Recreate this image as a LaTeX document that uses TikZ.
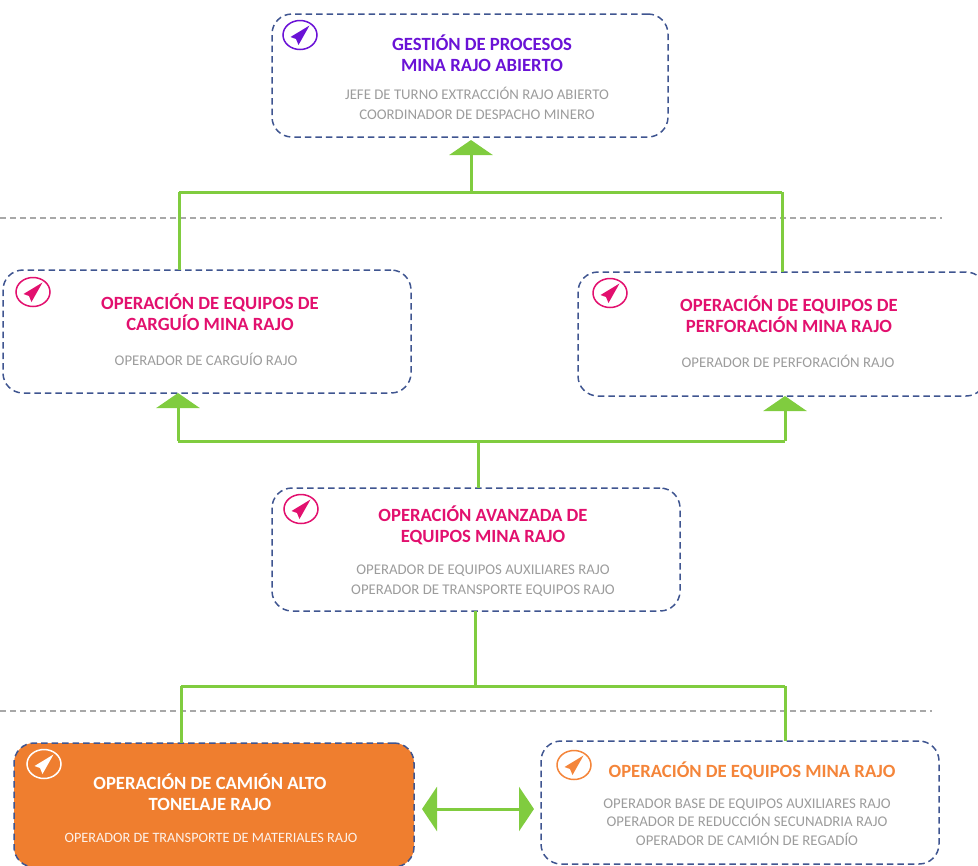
\documentclass[tikz,border=0pt]{standalone}
\usepackage{fontspec}
\setmainfont{Carlito}
\usetikzlibrary{arrows.meta}
\definecolor{frameblue}{HTML}{3F5590}
\definecolor{linkgreen}{HTML}{80CC3F}
\definecolor{subgray}{HTML}{9C9C9C}
\definecolor{sepgray}{HTML}{A8A8A8}
\definecolor{purpleT}{HTML}{6A12D6}
\definecolor{pinkT}{HTML}{E2106E}
\definecolor{orangeT}{HTML}{F4853A}
\definecolor{orangeF}{HTML}{EF7E2F}
\def\px{0.75pt}
\tikzset{
  cardbox/.style={draw=frameblue,line width=1.5*\px,dash pattern=on 6.5*\px off 4*\px,rounded corners=20*\px,inner sep=0pt,outer sep=0pt},
  titletext/.style={align=center,font=\fontsize{14}{15.8}\selectfont\bfseries},
  subtext/.style={align=center,text=subgray,font=\fontsize{11.1}{#1}\selectfont},
  subtext/.default={15},
  link/.style={draw=linkgreen,line width=3*\px},
  uparrow/.style={link,-{Triangle[width=43*\px,length=15*\px]}},
  bothways/.style={link,{Triangle[width=44*\px,length=15*\px]}-{Triangle[width=44*\px,length=15*\px]}},
  sepline/.style={draw=sepgray,line width=1.2*\px,dash pattern=on 6*\px off 4*\px},
  badge/.pic={
    \draw[#1,line width=1.5*\px] (0,0) ellipse (17 and 14.5);
    \fill[#1] (9.5,-9.5) -- (-9.5,2) -- (-4,4) -- (-1.5,10) -- cycle;
  }
}
\begin{document}
\begin{tikzpicture}[x=0.75pt,y=-0.75pt]
\useasboundingbox (0,0) rectangle (978,865);
\clip (0,0) rectangle (978,865);
% separators
\coordinate (s1a) at (0,218); \coordinate (s1b) at (942,218);
\coordinate (s2a) at (0,711); \coordinate (s2b) at (932,711);
\draw[sepline] (s1a) -- (s1b);
\draw[sepline] (s2a) -- (s2b);
% boxes
\node[cardbox,minimum width=396*\px,minimum height=123*\px] (A) at (470,75.5) {};
\node[cardbox,minimum width=408*\px,minimum height=123*\px] (B) at (207,331.5) {};
\node[cardbox,minimum width=408*\px,minimum height=124*\px] (C) at (782,334) {};
\node[cardbox,minimum width=408*\px,minimum height=123*\px] (D) at (476,549.5) {};
\node[cardbox,fill=orangeF,minimum width=400*\px,minimum height=124*\px] (E) at (214,805) {};
\node[cardbox,minimum width=398*\px,minimum height=123*\px] (F) at (740,802.5) {};
% badges
\pic at (300,35) {badge=purpleT};
\pic at (33,292) {badge=pinkT};
\pic at (610,293) {badge=pinkT};
\pic at (301,509) {badge=pinkT};
\pic at (44,764) {badge=white};
\pic at (574,765) {badge=orangeT};
% titles
\node[titletext,text=purpleT] (tA) at (482,53.5) {GESTIÓN DE PROCESOS\\MINA RAJO ABIERTO};
\node[titletext,text=pinkT] (tB) at (210,312) {OPERACIÓN DE EQUIPOS DE\\CARGUÍO MINA RAJO};
\node[titletext,text=pinkT] (tC) at (789,314) {OPERACIÓN DE EQUIPOS DE\\PERFORACIÓN MINA RAJO};
\node[titletext,text=pinkT] (tD) at (483,525) {OPERACIÓN AVANZADA DE\\EQUIPOS MINA RAJO};
\node[titletext,text=white] (tE) at (210,792.5) {OPERACIÓN DE CAMIÓN ALTO\\TONELAJE RAJO};
\node[titletext,text=orangeT] (tF) at (752,771) {OPERACIÓN DE EQUIPOS MINA RAJO};
% subtitles
\node[subtext] (sA) at (477,103.5) {JEFE DE TURNO EXTRACCIÓN RAJO ABIERTO\\COORDINADOR DE DESPACHO MINERO};
\node[subtext] (sB) at (206,359) {OPERADOR DE CARGUÍO RAJO};
\node[subtext] (sC) at (788,361) {OPERADOR DE PERFORACIÓN RAJO};
\node[subtext] (sD) at (483,580.5) {OPERADOR DE EQUIPOS AUXILIARES RAJO\\OPERADOR DE TRANSPORTE EQUIPOS RAJO};
\node[subtext,text=white!90!orangeF,font=\fontsize{10.7}{15}\selectfont] (sE) at (211,838) {OPERADOR DE TRANSPORTE DE MATERIALES RAJO};
\node[subtext=13.7] (sF) at (747,822) {OPERADOR BASE DE EQUIPOS AUXILIARES RAJO\\OPERADOR DE REDUCCIÓN SECUNADRIA RAJO\\OPERADOR DE CAMIÓN DE REGADÍO};
% junctions
\coordinate (ja) at (471,192);
\coordinate (jal) at (179,192);
\coordinate (jar) at (782,192);
\coordinate (jb) at (478,441);
\coordinate (jbl) at (178,441);
\coordinate (jbr) at (785,441);
\coordinate (jc) at (475,686);
\coordinate (jcl) at (181,686);
\coordinate (jcr) at (785,686);
% connectors
\draw[link,line cap=square] (jal) -- (jar);
\draw[link] (jal) -- (jal |- B.north);
\draw[link] (jar) -- (jar |- C.north);
\draw[uparrow,shorten >=3*\px] (ja) -- (ja |- A.south);
\draw[link,line cap=square] (jbl) -- (jbr);
\draw[uparrow] (jbl) -- (jbl |- B.south);
\draw[uparrow] (jbr) -- (jbr |- C.south);
\draw[link] (jb |- D.north) -- (jb);
\draw[link] (jc |- D.south) -- (jc);
\draw[link,line cap=square] (jcl) -- (jcr);
\draw[link] (jcl) -- (jcl |- E.north);
\draw[link] (jcr) -- (jcr |- F.north);
\coordinate (dl) at (422,809);
\coordinate (dr) at (534,809);
\draw[bothways] (dl) -- (dr);
\end{tikzpicture}
\end{document}
